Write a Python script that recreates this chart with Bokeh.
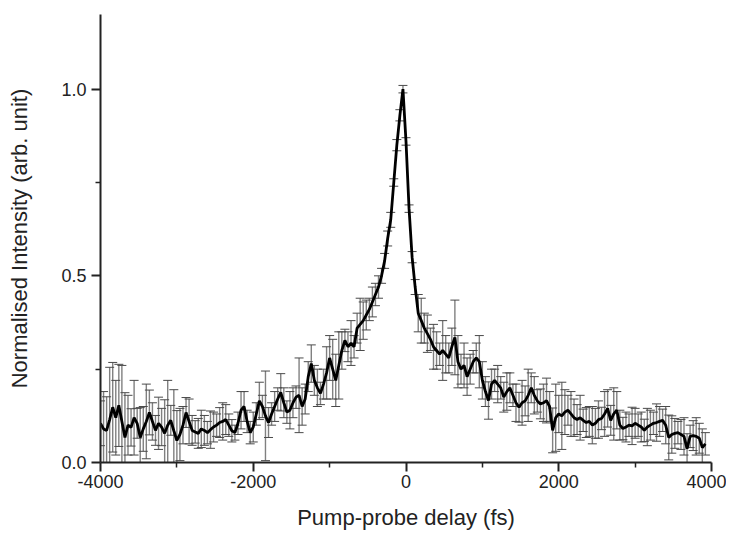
from bokeh.plotting import figure
from bokeh.models import ColumnDataSource, Whisker, TeeHead, Range1d, FixedTicker, PrintfTickFormatter
from bokeh.embed import file_html
from bokeh.resources import INLINE

delay_fs = list(range(-4000, 3921, 40))

intensity = [
    0.105, 0.09, 0.086, 0.115, 0.148, 0.12, 0.153, 0.11, 0.067, 0.10,
    0.094, 0.12, 0.105, 0.067, 0.09, 0.11, 0.134, 0.11, 0.086, 0.105,
    0.095, 0.078, 0.10, 0.113, 0.085, 0.059, 0.075, 0.10, 0.134, 0.11,
    0.086, 0.082, 0.078, 0.09, 0.086, 0.08, 0.088, 0.095, 0.10, 0.107,
    0.11, 0.115, 0.10, 0.085, 0.08, 0.105, 0.14, 0.15, 0.11, 0.08,
    0.095, 0.13, 0.165, 0.15, 0.125, 0.107, 0.13, 0.15, 0.17, 0.188,
    0.16, 0.135, 0.14, 0.16, 0.175, 0.18, 0.15, 0.17, 0.23, 0.265,
    0.22, 0.20, 0.185, 0.21, 0.24, 0.28, 0.25, 0.22, 0.26, 0.30,
    0.327, 0.31, 0.32, 0.31, 0.36, 0.37, 0.38, 0.395, 0.41, 0.43,
    0.45, 0.47, 0.50, 0.54, 0.60, 0.65, 0.75, 0.85, 0.93, 1.0,
    0.86, 0.68, 0.55, 0.47, 0.40, 0.38, 0.36, 0.345, 0.33, 0.31,
    0.30, 0.29, 0.30, 0.29, 0.28, 0.31, 0.335, 0.27, 0.25, 0.26,
    0.23, 0.25, 0.27, 0.28, 0.27, 0.22, 0.19, 0.166, 0.21, 0.22,
    0.21, 0.20, 0.175, 0.19, 0.20, 0.18, 0.16, 0.148, 0.16, 0.165,
    0.18, 0.20, 0.18, 0.165, 0.157, 0.16, 0.166, 0.15, 0.086, 0.12,
    0.13, 0.125, 0.135, 0.14, 0.13, 0.12, 0.115, 0.12, 0.113, 0.107,
    0.11, 0.10, 0.105, 0.115, 0.118, 0.13, 0.145, 0.113, 0.13, 0.14,
    0.10, 0.091, 0.095, 0.10, 0.098, 0.105, 0.10, 0.095, 0.086, 0.095,
    0.10, 0.105, 0.107, 0.11, 0.113, 0.10, 0.067, 0.075, 0.078, 0.08,
    0.075, 0.07, 0.037, 0.07, 0.072, 0.07, 0.065, 0.04, 0.05,
]

error = [
    0.06, 0.10, 0.09, 0.14, 0.12, 0.10, 0.11, 0.15, 0.12, 0.08,
    0.05, 0.10, 0.04, 0.08, 0.06, 0.10, 0.06, 0.05, 0.04, 0.07,
    0.05, 0.09, 0.12, 0.04, 0.11, 0.08, 0.07, 0.05, 0.04, 0.06,
    0.04, 0.03, 0.04, 0.05, 0.04, 0.03, 0.05, 0.04, 0.03, 0.04,
    0.05, 0.04, 0.03, 0.03, 0.02, 0.03, 0.05, 0.04, 0.03, 0.03,
    0.04, 0.03, 0.05, 0.03, 0.12, 0.04, 0.03, 0.04, 0.03, 0.05,
    0.04, 0.03, 0.05, 0.04, 0.03, 0.10, 0.05, 0.04, 0.04, 0.05,
    0.04, 0.05, 0.03, 0.04, 0.07, 0.06, 0.08, 0.07, 0.09, 0.05,
    0.03, 0.04, 0.06, 0.03, 0.04, 0.07, 0.05, 0.04, 0.03, 0.04,
    0.03, 0.03, 0.02, 0.02, 0.02, 0.02, 0.01, 0.015, 0.015, 0.01,
    0.01, 0.01, 0.015, 0.02, 0.05, 0.06, 0.04, 0.05, 0.03, 0.06,
    0.05, 0.03, 0.08, 0.05, 0.04, 0.05, 0.10, 0.07, 0.04, 0.06,
    0.05, 0.04, 0.03, 0.04, 0.07, 0.05, 0.04, 0.05, 0.04, 0.03,
    0.05, 0.03, 0.04, 0.05, 0.04, 0.03, 0.05, 0.04, 0.06, 0.04,
    0.07, 0.04, 0.05, 0.03, 0.04, 0.05, 0.06, 0.04, 0.06, 0.09,
    0.05, 0.09, 0.06, 0.04, 0.06, 0.05, 0.04, 0.06, 0.03, 0.04,
    0.04, 0.05, 0.04, 0.05, 0.03, 0.06, 0.05, 0.04, 0.07, 0.05,
    0.04, 0.03, 0.04, 0.03, 0.05, 0.04, 0.03, 0.04, 0.03, 0.05,
    0.04, 0.03, 0.05, 0.04, 0.03, 0.05, 0.06, 0.05, 0.04, 0.03,
    0.04, 0.05, 0.04, 0.03, 0.04, 0.05, 0.04, 0.05, 0.03,
]

x_ticks = [-4000, -2000, 0, 2000, 4000]
y_ticks = [0.0, 0.5, 1.0]

upper = [v + e for v, e in zip(intensity, error)]
lower = [v - e for v, e in zip(intensity, error)]
src = ColumnDataSource(dict(x=delay_fs, y=intensity, upper=upper, lower=lower))

FONT = "Liberation Sans"

p = figure(width=726, height=533, output_backend="svg", toolbar_location=None,
           x_range=Range1d(-4000, 4000), y_range=Range1d(0, 1.2),
           min_border_left=100, min_border_right=15, min_border_top=14, min_border_bottom=71)
p.outline_line_color = None
p.xgrid.visible = False
p.ygrid.visible = False
p.background_fill_color = "white"
p.border_fill_color = "white"

w = Whisker(source=src, base="x", upper="upper", lower="lower",
            line_color="#808080", line_width=1.4,
            upper_head=TeeHead(size=9, line_color="#4a4a4a", line_width=1),
            lower_head=TeeHead(size=9, line_color="#4a4a4a", line_width=1))
p.add_layout(w)
p.line("x", "y", source=src, line_color="black", line_width=2.8)

for ax in (p.xaxis[0], p.yaxis[0]):
    ax.axis_line_width = 2
    ax.axis_line_color = "#222222"
    ax.major_tick_line_color = "#222222"
    ax.minor_tick_line_color = "#222222"
    ax.major_tick_line_width = 2
    ax.minor_tick_line_width = 1.5
    ax.major_tick_in = 0
    ax.major_tick_out = 9
    ax.minor_tick_in = 0
    ax.minor_tick_out = 5
    ax.major_label_text_font = FONT
    ax.major_label_text_font_size = "18px"
    ax.major_label_text_color = "#222222"
    ax.axis_label_text_font = FONT
    ax.axis_label_text_font_size = "22px"
    ax.axis_label_text_font_style = "normal"
    ax.axis_label_text_color = "#222222"

p.xaxis.ticker = FixedTicker(ticks=x_ticks, minor_ticks=[-3000, -1000, 1000, 3000])
p.yaxis.ticker = FixedTicker(ticks=y_ticks, minor_ticks=[0.25, 0.75])
p.yaxis.formatter = PrintfTickFormatter(format="%.1f")
p.xaxis.formatter = PrintfTickFormatter(format="%d")
p.xaxis.axis_label = "Pump-probe delay (fs)"
p.yaxis.axis_label = "Normalised Intensity (arb. unit)"
p.xaxis.major_label_standoff = 3
p.yaxis.major_label_standoff = 5
p.xaxis.axis_label_standoff = 14
p.yaxis.axis_label_standoff = 26

open("out.html", "w").write(file_html(p, INLINE))
